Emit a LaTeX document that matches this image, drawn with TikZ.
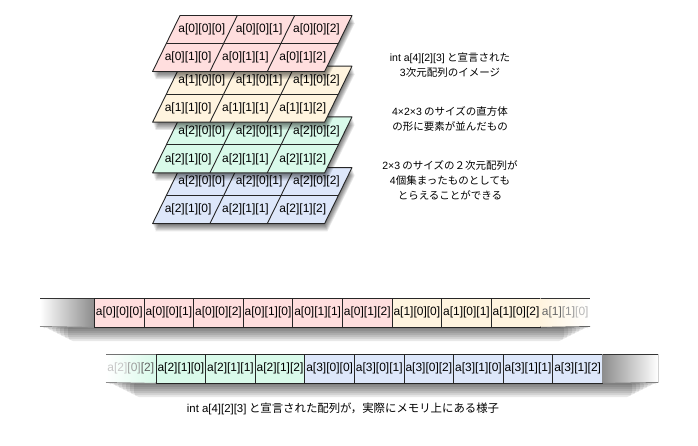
\documentclass[tikz,border=0pt]{standalone}
\usepackage{fontspec}
\setmainfont{Liberation Sans}
\newfontfamily\jp{Noto Sans CJK JP}
\newfontfamily\lat{Liberation Sans}
\definecolor{cpink}{HTML}{FFDEDE}
\definecolor{cyel}{HTML}{FFF4DF}
\definecolor{cgrn}{HTML}{D9FAEA}
\definecolor{cblu}{HTML}{DDE7FA}
\tikzset{
  cellline/.style={draw=black!85, line width=0.9pt, line join=round},
  celltext/.style={font=\fontsize{12}{14}\selectfont, inner sep=0pt},
  memcell/.style={draw=black!85, line width=0.9pt, minimum width=49.6pt, minimum height=28.5pt, inner sep=0pt, anchor=north west, font=\fontsize{12}{14}\selectfont},
  jptext/.style={font=\jp\fontsize{10.5}{15}\selectfont, align=center, inner sep=0pt},
  capt/.style={font=\jp\fontsize{11.4}{14}\selectfont, inner sep=0pt},
  shadowpiece/.style={fill=black, opacity=0.09, rounded corners=5pt},
}
\begin{document}
\begin{tikzpicture}[x=1pt,y=-1pt]
\useasboundingbox (0,0) rectangle (698,446);
\fill[white] (0,0) rectangle (698,446);

% ---------- stacked layers ----------
\foreach \L/\col/\lab in {3/cblu/2,2/cgrn/2,1/cyel/1,0/cpink/0}{
  \pgfmathsetmacro\yT{15.5+50.7*\L}
  \foreach \i in {1,...,7}{
    \fill[black,opacity=0.09] (180+0.4*\i,\yT+1.1*\i) -- (352+0.4*\i,\yT+1.1*\i) -- (324.6+0.4*\i,\yT+56+1.1*\i) -- (152.6+0.4*\i,\yT+56+1.1*\i) -- cycle;
  }
  \foreach \r in {0,1}{
    \foreach \c in {0,1,2}{
      \pgfmathsetmacro\xa{180-13.7*\r+57.33*\c}
      \pgfmathsetmacro\ya{\yT+28*\r}
      \fill[\col] (\xa,\ya) -- ++(57.33,0) -- ++(-13.7,28) -- ++(-57.33,0) -- cycle;
      \node[celltext] (s\L\r\c) at (\xa+21.8,\ya+14) {a[\lab][\r][\c]};
    }
  }
  \draw[cellline] (180,\yT) -- (352,\yT) -- (324.6,\yT+56) -- (152.6,\yT+56) -- cycle;
  \draw[cellline] (166.3,\yT+28) -- (338.3,\yT+28);
  \draw[cellline] (237.33,\yT) -- (209.93,\yT+56);
  \draw[cellline] (294.67,\yT) -- (267.27,\yT+56);
}

% ---------- descriptions ----------
\node[jptext] (d1) at (450,65.5) {{\lat int a[4][2][3]} と宣言された\\{\lat 3}次元配列のイメージ};
\node[jptext] (d2) at (450,118.5) {{\lat 4×2×3} のサイズの直方体\\の形に要素が並んだもの};
\node[jptext] (d3) at (450,180) {{\lat 2×3} のサイズの２次元配列が\\{\lat 4}個集まったものとしても\\とらえることができる};

% ---------- memory strip 1 ----------
\foreach \i in {1,...,7}{
  \fill[shadowpiece] (40+4*\i,324) rectangle (592-4*\i,327+2*\i);
}
\shade[left color=white, right color=black!45] (40,298) rectangle (94,326.5);
\foreach \i/\lbl/\col in {0/{a[0][0][0]}/cpink,1/{a[0][0][1]}/cpink,2/{a[0][0][2]}/cpink,3/{a[0][1][0]}/cpink,4/{a[0][1][1]}/cpink,5/{a[0][1][2]}/cpink,6/{a[1][0][0]}/cyel,7/{a[1][0][1]}/cyel,8/{a[1][0][2]}/cyel}{
  \node[memcell, fill=\col] (m\i) at (94+49.6*\i,298) {\lbl};
}
\shade[left color=cyel, right color=white] (540.4,298) rectangle (590,326.5);
\node[celltext] (m9) at (565.2,312.3) {\textcolor{black!60}{a[1]}\textcolor{black!42}{[1]}\textcolor{black!28}{[0]}};
\coordinate (l1a) at (40,298);
\coordinate (l1b) at (40,326.5);
\coordinate (r1a) at (590,298);
\coordinate (r1b) at (590,326.5);
\draw[black!80, line width=0.9pt] (l1a) -- (m0.north west);
\draw[black!45, line width=0.9pt] (l1b) -- (m0.south west);
\draw[black!80, line width=0.9pt] (m8.north east) -- (r1a);
\draw[black!60, line width=0.9pt] (m8.south east) -- (r1b);

% ---------- memory strip 2 ----------
\foreach \i in {1,...,7}{
  \fill[shadowpiece] (106+4*\i,380) rectangle (660-4*\i,383+2*\i);
}
\shade[left color=white, right color=cgrn] (106,354) rectangle (155.6,382.5);
\node[celltext] (n0) at (130.8,368.2) {\textcolor{black!22}{a[2]}\textcolor{black!38}{[0]}\textcolor{black!62}{[2]}};
\foreach \i/\lbl/\col in {1/{a[2][1][0]}/cgrn,2/{a[2][1][1]}/cgrn,3/{a[2][1][2]}/cgrn,4/{a[3][0][0]}/cblu,5/{a[3][0][1]}/cblu,6/{a[3][0][2]}/cblu,7/{a[3][1][0]}/cblu,8/{a[3][1][1]}/cblu,9/{a[3][1][2]}/cblu}{
  \node[memcell, fill=\col] (n\i) at (155.6+49.6*\i-49.6,354) {\lbl};
}
\shade[left color=black!45, right color=white] (602,354) rectangle (658,382.5);
\coordinate (l2a) at (106,354);
\coordinate (l2b) at (106,382.5);
\coordinate (r2a) at (658,354);
\coordinate (r2b) at (658,382.5);
\draw[black!55, line width=0.9pt] (l2a) -- (n1.north west);
\draw[black!45, line width=0.9pt] (l2b) -- (n1.south west);
\draw[black!80, line width=0.9pt] (n9.north east) -- (r2a);
\draw[black!50, line width=0.9pt] (n9.south east) -- (r2b);
\draw[black!18, line width=0.8pt] (r2a) -- (r2b);

% ---------- caption ----------
\node[capt] (cap) at (343,409) {{\lat int a[4][2][3]} と宣言された配列が，実際にメモリ上にある様子};
\end{tikzpicture}
\end{document}
